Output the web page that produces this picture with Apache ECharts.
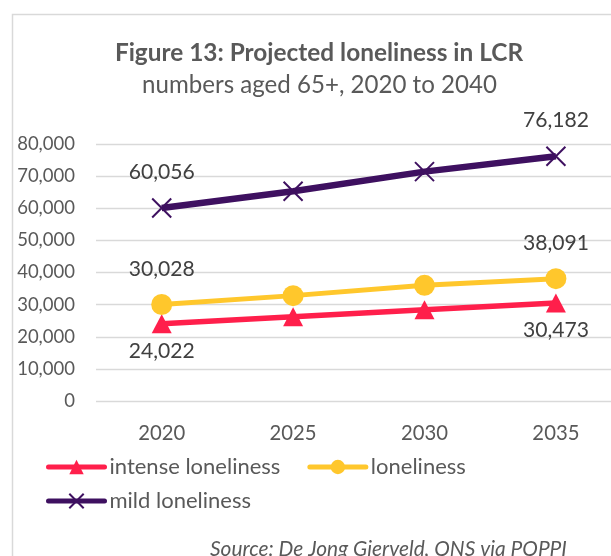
<!DOCTYPE html>
<html>
<head>
<meta charset="utf-8">
<script src="https://cdn.jsdelivr.net/npm/echarts@6/dist/echarts.min.js"></script>
<style>
  html, body { margin: 0; padding: 0; background: #fff; }
  #chart { width: 611px; height: 556px; }
</style>
</head>
<body>
<div id="chart"></div>
<script>
// Projected loneliness counts, people aged 65+
const years = ['2020', '2025', '2030', '2035'];
const intense = [24022, 26200, 28400, 30473];
const loneliness = [30028, 32800, 36000, 38091];
const mild = [60056, 65300, 71400, 76182];
const yTicks = [0, 10000, 20000, 30000, 40000, 50000, 60000, 70000, 80000];

const TITLE = 'Figure 13: Projected loneliness in LCR';
const SUBTITLE = 'numbers aged 65+, 2020 to 2040';
const SOURCE = 'Source: De Jong Gierveld, ONS via POPPI';

const FAMILY = 'Lato';
const FONT = 'Lato, "Open Sans", sans-serif';
const RED = '#FF1F4B';
const YELLOW = '#FFC72C';
const PURPLE = '#3E1060';
const GREY = '#595959';

const fmt = v => v.toLocaleString('en-US');

// pick a font size so that a string spans a given pixel width
const mctx = document.createElement('canvas').getContext('2d');
function fitSize(text, width, weight, style) {
  mctx.font = (style || 'normal') + ' ' + (weight || 'normal') + ' 100px ' + FAMILY;
  return Math.round(1000 * width / mctx.measureText(text).width) / 10;
}
const titleSize = fitSize(TITLE, 408, 'bold');
const subSize = fitSize(SUBTITLE, 355);
const yLabelSize = fitSize('80,000', 58);
const xLabelSize = fitSize('2020', 47);
const valueSize = fitSize('60,056', 66);
const legendSize = fitSize('intense loneliness', 171);
const sourceSize = fitSize('Source: De Jong Gierveld, O', 240, 'normal', 'italic');

// only the first and last points carry value labels
function endLabels(values, position, distance) {
  return values.map((v, i) => ({
    value: v,
    label: {
      show: i === 0 || i === values.length - 1,
      position: position,
      distance: distance,
      formatter: p => fmt(p.value),
      fontFamily: FONT, fontSize: valueSize, color: '#404040'
    }
  }));
}

const legendCommon = {
  padding: 0, itemWidth: 56, itemHeight: 18,
  lineStyle: { width: 5, cap: 'round' },
  textStyle: { fontFamily: FONT, fontSize: legendSize, color: GREY }
};

const chart = echarts.init(document.getElementById('chart'));
chart.setOption({
  animation: false,
  backgroundColor: '#fff',
  graphic: [
    {
      type: 'rect', silent: true, z: -1,
      shape: { x: 12.5, y: 14.5, width: 620, height: 560 },
      style: { fill: 'none', stroke: '#D9D9D9', lineWidth: 1.5 }
    },
    {
      type: 'text', silent: true,
      style: {
        text: TITLE, x: 319, y: 53, align: 'center', verticalAlign: 'middle',
        font: 'bold ' + titleSize + 'px ' + FONT, fill: GREY
      }
    },
    {
      type: 'text', silent: true,
      style: {
        text: SUBTITLE, x: 319.5, y: 85.5, align: 'center', verticalAlign: 'middle',
        font: subSize + 'px ' + FONT, fill: GREY
      }
    },
    {
      type: 'text', silent: true,
      style: {
        text: SOURCE, x: 210, y: 549.5, align: 'left', verticalAlign: 'middle',
        font: 'italic ' + sourceSize + 'px ' + FONT, fill: GREY
      }
    }
  ],
  legend: [
    Object.assign({ data: ['intense loneliness', 'loneliness'], left: 46, top: 456, itemGap: 27 }, legendCommon),
    Object.assign({ data: ['mild loneliness'], left: 46, top: 490 }, legendCommon)
  ],
  grid: { left: 96, width: 525.6, top: 144, height: 257, containLabel: false, outerBoundsMode: 'none' },
  xAxis: {
    type: 'category', data: years, boundaryGap: true,
    axisLine: { show: false }, axisTick: { show: false },
    axisLabel: { fontFamily: FONT, fontSize: xLabelSize, color: GREY, margin: 22 }
  },
  yAxis: {
    type: 'value', min: yTicks[0], max: yTicks[yTicks.length - 1], interval: 10000,
    axisLine: { show: false }, axisTick: { show: false },
    splitLine: { lineStyle: { color: '#D9D9D9', width: 1.3 } },
    axisLabel: { fontFamily: FONT, fontSize: yLabelSize, color: GREY, margin: 21, formatter: v => fmt(v) }
  },
  series: [
    {
      name: 'intense loneliness', type: 'line', data: endLabels(intense, 'bottom', 7),
      symbol: 'triangle', symbolSize: [20, 19],
      lineStyle: { color: RED, width: 5.5 },
      itemStyle: { color: RED }, z: 3
    },
    {
      name: 'loneliness', type: 'line', data: endLabels(loneliness, 'top', 14),
      symbol: 'circle', symbolSize: 21,
      lineStyle: { color: YELLOW, width: 5 },
      itemStyle: { color: YELLOW }, z: 3
    },
    {
      name: 'mild loneliness', type: 'line', data: endLabels(mild, 'top', 15),
      symbol: 'path://M0,0L10,10M10,0L0,10', symbolSize: 19,
      lineStyle: { color: PURPLE, width: 6.5 },
      itemStyle: { color: PURPLE, borderColor: PURPLE, borderWidth: 2 }, z: 3
    }
  ]
});
</script>
</body>
</html>
